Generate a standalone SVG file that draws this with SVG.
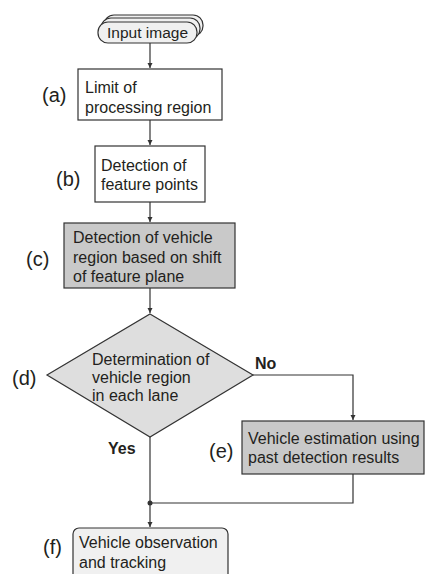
<svg xmlns="http://www.w3.org/2000/svg" width="427" height="574" viewBox="0 0 427 574">
<defs>
<style>
text{font-family:"Liberation Sans",Arial,sans-serif;fill:#231f20}
.t{font-size:16px}
.lb{font-size:20px}
.b{font-size:16px;font-weight:bold}
.n{stroke:#333;stroke-width:1.2}
.c{stroke:#333;stroke-width:1.2;fill:none}
</style>
<marker id="ah" markerWidth="6" markerHeight="6" refX="5" refY="3" orient="auto" markerUnits="userSpaceOnUse">
<path d="M0,0.5 L5,3 L0,5.5 Z" fill="#333"/>
</marker>
</defs>
<rect width="427" height="574" fill="#fff"/>
<g id="input">
<rect class="n" x="104" y="15" width="99" height="21" rx="10" fill="#f0f0f0"/>
<rect class="n" x="101" y="18" width="99" height="21" rx="10" fill="#f0f0f0"/>
<rect class="n" x="98" y="22" width="99" height="21" rx="10" fill="#f0f0f0"/>
<text class="t" x="107" y="38" style="font-size:15.5px">Input image</text>
</g>
<g id="a">
<rect class="n" x="78" y="69" width="144" height="51" fill="#fff"/>
<text class="t" x="85" y="93">Limit of</text>
<text class="t" x="85" y="113">processing region</text>
<text class="lb" x="42" y="102">(a)</text>
</g>
<g id="b">
<rect class="n" x="95" y="146" width="110" height="56" fill="#fff"/>
<text class="t" x="101" y="171">Detection of</text>
<text class="t" x="101" y="190">feature points</text>
<text class="lb" x="56" y="186">(b)</text>
</g>
<g id="c">
<rect class="n" x="64" y="223" width="171" height="65" fill="#c9c9c9"/>
<text class="t" x="73" y="243">Detection of vehicle</text>
<text class="t" x="73" y="263">region based on shift</text>
<text class="t" x="73" y="282">of feature plane</text>
<text class="lb" x="26" y="266">(c)</text>
</g>
<g id="d">
<polygon class="n" points="150,314 253,375 150,437 47,375" fill="#dedede"/>
<text class="t" x="92" y="365">Determination of</text>
<text class="t" x="92" y="383">vehicle region</text>
<text class="t" x="92" y="401">in each lane</text>
<text class="lb" x="12" y="385">(d)</text>
</g>
<g id="e">
<rect class="n" x="242" y="421" width="182" height="53" fill="#c9c9c9"/>
<text class="t" x="248" y="444">Vehicle estimation using</text>
<text class="t" x="248" y="463">past detection results</text>
<text class="lb" x="209" y="458">(e)</text>
</g>
<g id="f">
<rect class="n" x="73" y="528" width="155" height="56" rx="6" fill="#f0f0f0"/>
<text class="t" x="79" y="548">Vehicle observation</text>
<text class="t" x="79" y="568">and tracking</text>
<text class="lb" x="43" y="554">(f)</text>
</g>
<g id="connectors">
<line class="c" x1="150" y1="43" x2="150" y2="68" marker-end="url(#ah)"/>
<line class="c" x1="150" y1="120" x2="150" y2="145" marker-end="url(#ah)"/>
<line class="c" x1="150" y1="202" x2="150" y2="222" marker-end="url(#ah)"/>
<line class="c" x1="150" y1="288" x2="150" y2="313" marker-end="url(#ah)"/>
<polyline class="c" points="253,375 353,375 353,420" marker-end="url(#ah)"/>
<line class="c" x1="150" y1="437" x2="150" y2="527" marker-end="url(#ah)"/>
<polyline class="c" points="353,474 353,503 150,503"/>
<circle cx="150" cy="503" r="2.5" fill="#333"/>
<text class="b" x="255" y="369">No</text>
<text class="b" x="108" y="454">Yes</text>
</g>
</svg>
